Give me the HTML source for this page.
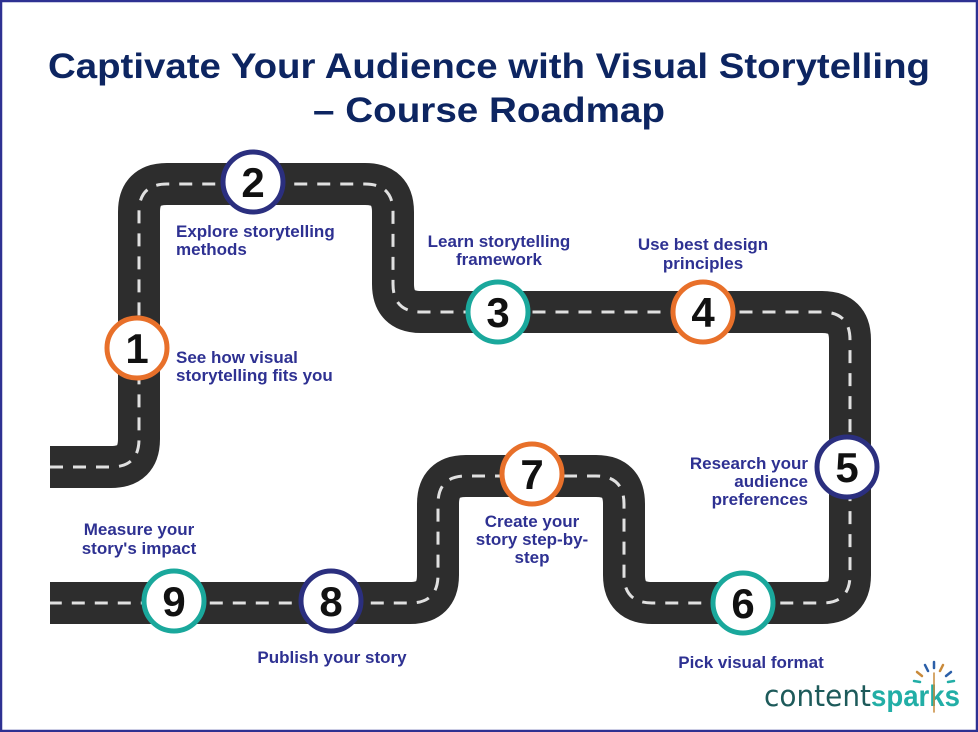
<!DOCTYPE html>
<html><head><meta charset="utf-8"><style>
html,body{margin:0;padding:0;background:#fff}
svg{display:block}
.t{font-family:"Liberation Sans",sans-serif;font-weight:bold;fill:#0d2561}
.l{font-family:"Liberation Sans",sans-serif;font-weight:bold;fill:#2e3192;font-size:17px}
.n{font-family:"Liberation Sans",sans-serif;font-weight:bold;fill:#111;font-size:42px;text-anchor:middle}
</style></head><body>
<svg width="978" height="732" viewBox="0 0 978 732">
<rect x="1" y="1" width="976" height="730" fill="#fff" stroke="#2e3192" stroke-width="2.5"/>
<text class="t" x="489" y="78" font-size="35" text-anchor="middle" textLength="882" lengthAdjust="spacingAndGlyphs">Captivate Your Audience with Visual Storytelling</text>
<text class="t" x="489" y="122" font-size="35" text-anchor="middle" textLength="352" lengthAdjust="spacingAndGlyphs">– Course Roadmap</text>
<g fill="none">
<path d="M50,467 H111 Q139,467 139,439 V212 Q139,184 167,184 H365 Q393,184 393,212 V284 Q393,312 421,312 H822 Q850,312 850,340 V575 Q850,603 822,603 H652 Q624,603 624,575 V504 Q624,476 596,476 H466 Q438,476 438,504 V575 Q438,603 410,603 H50" stroke="#2d2d2d" stroke-width="42"/>
<path d="M50,467 H111 Q139,467 139,439 V212 Q139,184 167,184 H365 Q393,184 393,212 V284 Q393,312 421,312 H822 Q850,312 850,340 V575 Q850,603 822,603 H652 Q624,603 624,575 V504 Q624,476 596,476 H466 Q438,476 438,504 V575 Q438,603 410,603 H50" stroke="#e0e0e0" stroke-width="3" stroke-dasharray="13 10"/>
</g>
<g stroke-width="5" fill="#fff">
<circle cx="137" cy="348" r="30" stroke="#e8702a"/>
<circle cx="253" cy="182" r="30" stroke="#2b2f7f"/>
<circle cx="498" cy="312" r="30" stroke="#1aa89c"/>
<circle cx="703" cy="312" r="30" stroke="#e8702a"/>
<circle cx="847" cy="467" r="30" stroke="#2b2f7f"/>
<circle cx="743" cy="603" r="30" stroke="#1aa89c"/>
<circle cx="532" cy="474" r="30" stroke="#e8702a"/>
<circle cx="331" cy="601" r="30" stroke="#2b2f7f"/>
<circle cx="174" cy="601" r="30" stroke="#1aa89c"/>
</g>
<text class="n" x="137" y="363">1</text>
<text class="n" x="253" y="197">2</text>
<text class="n" x="498" y="327">3</text>
<text class="n" x="703" y="327">4</text>
<text class="n" x="847" y="482">5</text>
<text class="n" x="743" y="618">6</text>
<text class="n" x="532" y="489">7</text>
<text class="n" x="331" y="616">8</text>
<text class="n" x="174" y="616">9</text>
<text class="l" x="176" y="237">Explore storytelling</text>
<text class="l" x="176" y="255">methods</text>
<text class="l" x="176" y="363">See how visual</text>
<text class="l" x="176" y="381">storytelling fits you</text>
<g text-anchor="middle">
<text class="l" x="499" y="247">Learn storytelling</text>
<text class="l" x="499" y="265">framework</text>
<text class="l" x="703" y="250">Use best design</text>
<text class="l" x="703" y="269">principles</text>
<text class="l" x="532" y="527">Create your</text>
<text class="l" x="532" y="545">story step-by-</text>
<text class="l" x="532" y="563">step</text>
<text class="l" x="751" y="668">Pick visual format</text>
<text class="l" x="332" y="663">Publish your story</text>
<text class="l" x="139" y="535">Measure your</text>
<text class="l" x="139" y="554">story's impact</text>
</g>
<g text-anchor="end">
<text class="l" x="808" y="469">Research your</text>
<text class="l" x="808" y="487">audience</text>
<text class="l" x="808" y="505">preferences</text>
</g>
<text x="764" y="706" font-family="DejaVu Sans,sans-serif" font-size="29" fill="#1d5a5a" font-weight="normal" textLength="107" lengthAdjust="spacingAndGlyphs">content</text>
<text x="871" y="706" font-family="Liberation Sans,sans-serif" font-size="30" fill="#22aea6" font-weight="bold" textLength="89" lengthAdjust="spacingAndGlyphs">sparks</text>
<g stroke-width="2.5" stroke-linecap="round">
<line x1="934" y1="662" x2="934" y2="668" stroke="#2b5fa8"/>
<line x1="925" y1="665" x2="928" y2="671" stroke="#2b5fa8"/>
<line x1="943" y1="665" x2="940" y2="671" stroke="#c98a3a"/>
<line x1="917" y1="672" x2="922" y2="676" stroke="#c98a3a"/>
<line x1="951" y1="672" x2="946" y2="676" stroke="#2b5fa8"/>
<line x1="914" y1="681" x2="920" y2="682" stroke="#22aea6"/>
<line x1="954" y1="681" x2="948" y2="682" stroke="#22aea6"/>
<line x1="934" y1="673" x2="934" y2="712" stroke="#c98a3a" stroke-width="1.5"/>
</g>
</svg>
</body></html>
